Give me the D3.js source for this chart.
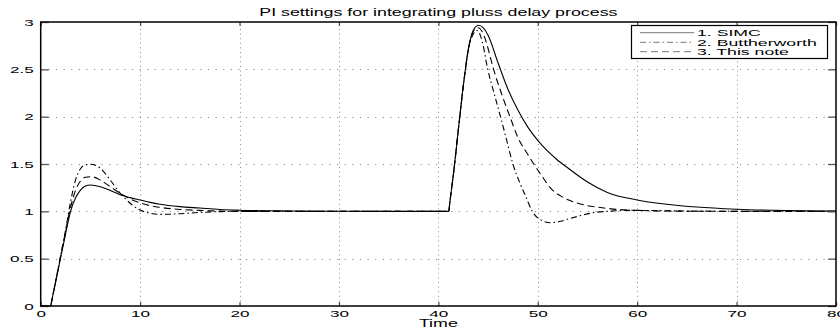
<!DOCTYPE html>
<html>
<head>
<meta charset="utf-8">
<script src="https://cdnjs.cloudflare.com/ajax/libs/d3/7.8.5/d3.min.js"></script>
<style>
  body { margin: 0; background: #fff; }
  svg { display: block; font-family: "Liberation Sans", Arial, Helvetica, sans-serif; }
</style>
</head>
<body>
<div id="chart"></div>
<script>
// values
const titleText = "PI settings for integrating pluss delay process";
const xLabel = "Time";
const seriesNames = ["1. SIMC", "2. Buttherworth", "3. This note"];

const xTicks = [0, 10, 20, 30, 40, 50, 60, 70, 80];
const yTicks = [0, 0.5, 1, 1.5, 2, 2.5, 3];
const yTickLabels = ["0", "0.5", "1", "1.5", "2", "2.5", "3"];

// 1. SIMC (solid)
const simcT = [0, 1.0, 1.1, 1.5, 2, 2.5, 3, 3.5, 4, 4.5, 5, 6, 7, 8, 9, 10, 11, 12, 14, 16, 18, 20, 25, 30, 35,
  41.05, 41.15, 41.55, 42.05, 42.56, 43.06, 43.56, 44.05, 44.5, 45, 46, 47, 48, 49, 50, 51, 52, 53, 55, 57, 60, 63, 66, 70, 75, 80];
const simcY = [0, 0, 0.05, 0.25, 0.51, 0.76, 1.0, 1.14, 1.225, 1.268, 1.278, 1.26, 1.22, 1.175, 1.145, 1.12, 1.095, 1.075, 1.05, 1.035, 1.02, 1.012, 1.004, 1.001, 1.0,
  1.0, 1.09, 1.42, 1.9, 2.37, 2.74, 2.92, 2.965, 2.94, 2.86, 2.57, 2.29, 2.07, 1.89, 1.75, 1.635, 1.54, 1.46, 1.31, 1.2, 1.12, 1.075, 1.045, 1.022, 1.008, 1.003];

// 2. Butterworth (dash-dot)
const buttT = [0, 1.0, 1.1, 1.5, 2, 2.5, 3, 3.5, 4, 4.5, 5, 6, 7, 8, 9, 10, 11, 12, 13, 14, 16, 18, 20, 25,
  41.05, 41.15, 41.55, 42.05, 42.56, 43.0, 43.5, 43.9, 44.4, 44.97, 45.6, 46.25, 46.8, 47.5, 48.2, 48.8, 49.45, 50.3, 51.3, 52.3, 53.3, 54.5, 55.6, 57, 59, 62, 66, 80];
const buttY = [0, 0, 0.05, 0.26, 0.53, 0.8, 1.1, 1.33, 1.45, 1.49, 1.497, 1.455, 1.33, 1.19, 1.085, 1.014, 0.98, 0.968, 0.97, 0.975, 0.988, 0.997, 1.0, 1.0,
  1.0, 1.09, 1.42, 1.9, 2.36, 2.7, 2.87, 2.91, 2.8, 2.5, 2.25, 2.0, 1.78, 1.5, 1.3, 1.155, 1.0, 0.91, 0.88, 0.895, 0.926, 0.96, 0.986, 1.0, 1.01, 1.008, 1.002, 1.0];

// 3. This note (dashed)
const noteT = [0, 1.0, 1.1, 1.5, 2, 2.5, 3, 3.5, 4, 4.5, 5.1, 6, 7, 8, 9, 10, 11, 12, 14, 16, 18, 20, 25,
  41.05, 41.15, 41.55, 42.05, 42.56, 43.06, 43.5, 44.0, 44.5, 45, 45.5, 46.5, 47.2, 48, 49, 49.6, 50.5, 51.25, 52.5, 53.6, 55, 56.3, 58, 60, 63, 70, 80];
const noteY = [0, 0, 0.05, 0.26, 0.52, 0.79, 1.04, 1.22, 1.32, 1.36, 1.366, 1.33, 1.26, 1.19, 1.13, 1.09, 1.06, 1.042, 1.02, 1.01, 1.003, 1.0, 1.0,
  1.0, 1.09, 1.42, 1.9, 2.37, 2.73, 2.9, 2.94, 2.88, 2.72, 2.52, 2.2, 2.0, 1.78, 1.6, 1.5, 1.36, 1.25, 1.15, 1.1, 1.06, 1.04, 1.02, 1.01, 1.003, 1.0, 1.0];

const width = 840, height = 331;
const sx = 1.65;      // title / xlabel are stretched sideways in the reference
const sxTick = 1.8;   // tick labels even more so
const sxLeg = 1.9;

const svg = d3.select("#chart")
  .append("svg")
  .attr("width", width)
  .attr("height", height);

const x = d3.scaleLinear().domain([0, 80]).range([40.7, 836]);
const y = d3.scaleLinear().domain([0, 3]).range([306, 22]);

// grid
const grid = svg.append("g").attr("class", "grid")
  .attr("stroke", "#8a8a8a")
  .attr("stroke-width", 1);

grid.selectAll(".gy")
  .data(yTicks.slice(1, -1))
  .enter()
  .append("line")
    .attr("x1", x(0)).attr("x2", x(80))
    .attr("y1", d => Math.round(y(d)) + 0.5)
    .attr("y2", d => Math.round(y(d)) + 0.5)
    .attr("stroke-dasharray", "1.2,6.4");

grid.selectAll(".gx")
  .data(xTicks.slice(1, -1))
  .enter()
  .append("line")
    .attr("x1", d => Math.round(x(d)) + 0.5)
    .attr("x2", d => Math.round(x(d)) + 0.5)
    .attr("y1", y(0)).attr("y2", y(3))
    .attr("stroke-dasharray", "1,3.6");

// curves
const line = (tt, vv) => d3.line()
  .x(i => x(tt[i]))
  .y(i => y(vv[i]))
  .curve(d3.curveMonotoneX)(d3.range(tt.length));

const series = [
  { t: simcT, v: simcY, dash: null },
  { t: buttT, v: buttY, dash: "6,3,1.5,3" },
  { t: noteT, v: noteY, dash: "7,4" }
];

svg.append("g").attr("class", "lines")
  .selectAll("path")
  .data(series)
  .enter()
  .append("path")
    .attr("d", d => line(d.t, d.v))
    .attr("fill", "none")
    .attr("stroke", "#000")
    .attr("stroke-width", 1.1)
    .attr("stroke-dasharray", d => d.dash);

// axes (ticks point inward, box on)
const axisStyle = g => {
  g.select(".domain").remove();
  g.selectAll(".tick line").attr("stroke", "#555").attr("stroke-width", 1.3);
  g.selectAll("text")
    .attr("fill", "#000")
    .style("font-size", "9.5px")
    .style("font-family", "'Liberation Sans', Arial, sans-serif");
};

svg.append("g")
  .attr("transform", `translate(0,${y(0)})`)
  .call(d3.axisBottom(x).tickValues(xTicks).tickSizeInner(-4).tickSizeOuter(0).tickPadding(4))
  .call(axisStyle)
  .call(g => g.selectAll("text").attr("transform", `scale(${sxTick},1)`));

svg.append("g")
  .attr("transform", `translate(0,${y(3)})`)
  .call(d3.axisTop(x).tickValues(xTicks).tickSizeInner(-4).tickSizeOuter(0).tickFormat(""))
  .call(axisStyle);

svg.append("g")
  .attr("transform", `translate(${x(0)},0)`)
  .call(d3.axisLeft(y).tickValues(yTicks).tickSizeInner(-8).tickSizeOuter(0)
    .tickFormat((d, i) => yTickLabels[i]))
  .call(axisStyle)
  .call(g => g.selectAll("text").attr("x", -7 / sxTick).attr("transform", `scale(${sxTick},1)`));

svg.append("g")
  .attr("transform", `translate(${x(80)},0)`)
  .call(d3.axisRight(y).tickValues(yTicks).tickSizeInner(-8).tickSizeOuter(0).tickFormat(""))
  .call(axisStyle);

// box
svg.append("rect")
  .attr("x", x(0)).attr("y", y(3))
  .attr("width", x(80) - x(0)).attr("height", y(0) - y(3))
  .attr("fill", "none")
  .attr("stroke", "#000")
  .attr("stroke-width", 1.5);

// text helper
function label(txt, px, py, size, anchor, s) {
  svg.append("text")
    .attr("transform", `translate(${px},${py}) scale(${s},1)`)
    .attr("text-anchor", anchor)
    .style("font-size", size + "px")
    .attr("fill", "#000")
    .text(txt);
}

label(titleText, (x(0) + x(80)) / 2, 16, 10.8, "middle", sx);
label(xLabel, (x(0) + x(80)) / 2, 327, 10.8, "middle", sx);

// legend
const lg = svg.append("g").attr("class", "legend");
lg.append("rect")
  .attr("x", 631.5).attr("y", 25.5)
  .attr("width", 196).attr("height", 33)
  .attr("fill", "#fff")
  .attr("stroke", "#000")
  .attr("stroke-width", 1.2);

const rowY = [32.7, 42.3, 51.7];
seriesNames.forEach((name, i) => {
  lg.append("line")
    .attr("x1", 640).attr("x2", 694)
    .attr("y1", rowY[i]).attr("y2", rowY[i])
    .attr("stroke", "#777")
    .attr("stroke-width", 1)
    .attr("stroke-dasharray", series[i].dash);
  label(name, 697, rowY[i] + 3.4, 9.3, "start", sxLeg);
});
</script>
</body>
</html>
